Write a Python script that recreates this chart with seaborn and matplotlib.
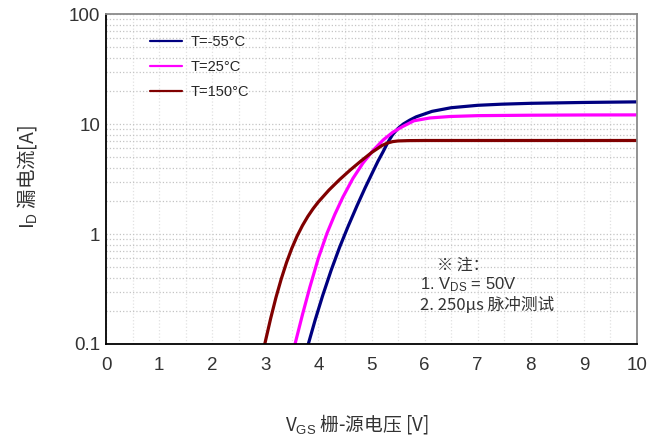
import matplotlib
matplotlib.use("Agg")
import matplotlib.pyplot as plt  # for charts
from matplotlib.ticker import LogLocator, MultipleLocator, NullFormatter
import numpy as np
import pandas as pd
import seaborn as sns

# Transfer characteristics ID-VGS
vgs_m55 = [3.81, 3.94, 4.08, 4.24, 4.40, 4.56, 4.73, 4.88, 5.03, 5.12, 5.22, 5.31,
           5.40, 5.50, 5.60, 5.72, 5.84, 6.14, 6.50, 7.00, 7.45, 8.00, 9.00, 10.00]
id_m55 = [0.1, 0.166, 0.275, 0.468, 0.759, 1.175, 1.82, 2.63, 3.72, 4.57, 5.62, 6.84,
          8.04, 9.12, 10.0, 10.84, 11.61, 13.03, 14.06, 14.79, 15.14, 15.42, 15.70, 15.89]

vgs_25 = [3.56, 3.70, 3.84, 4.00, 4.16, 4.31, 4.46, 4.65, 4.84, 5.03, 5.22, 5.40,
          5.59, 5.80, 6.10, 6.48, 7.00, 8.00, 9.00, 10.00]
id_25 = [0.1, 0.185, 0.33, 0.605, 1.01, 1.51, 2.16, 3.2, 4.42, 5.75, 7.16, 8.41,
         9.5, 10.7, 11.35, 11.7, 11.91, 12.02, 12.08, 12.1]

vgs_150 = [2.99, 3.10, 3.20, 3.30, 3.40, 3.50, 3.60, 3.70, 3.80, 3.90, 4.00, 4.20,
           4.40, 4.60, 4.80, 5.00, 5.20, 5.30, 5.40, 5.50, 5.70, 6.00, 7.00, 8.00, 9.00, 10.00]
id_150 = [0.1, 0.170, 0.264, 0.390, 0.551, 0.743, 0.959, 1.194, 1.442, 1.698, 1.959, 2.512,
          3.126, 3.819, 4.603, 5.495, 6.383, 6.714, 6.918, 7.015, 7.063, 7.079, 7.08, 7.08, 7.08, 7.08]

labels = ["T=-55°C", "T=25°C", "T=150°C"]
colors = ["#000080", "#ff00ff", "#800000"]

x_ticks = list(range(0, 11))
y_ticks = [0.1, 1, 10, 100]
y_tick_labels = ["0.1", "1", "10", "100"]

note_lines = ["※ 注：", r"1. V$_{\rm DS}$ = 50V", "2. 250μs 脉冲测试"]
x_label = r"V$_{\rm GS}$ 栅-源电压 [V]"
y_label = r"I$_{\rm D}$ 漏电流[A]"

# long format table for seaborn
df = pd.concat([
    pd.DataFrame({"Vgs": vgs_m55, "Id": id_m55, "T": labels[0]}),
    pd.DataFrame({"Vgs": vgs_25, "Id": id_25, "T": labels[1]}),
    pd.DataFrame({"Vgs": vgs_150, "Id": id_150, "T": labels[2]}),
], ignore_index=True)

sns.set_style("white")
plt.rcParams["font.family"] = ["Liberation Sans", "Noto Sans CJK SC", "DejaVu Sans"]
plt.rcParams["mathtext.fontset"] = "custom"
plt.rcParams["mathtext.rm"] = "Liberation Sans"
plt.rcParams["mathtext.it"] = "Liberation Sans:italic"
plt.rcParams["mathtext.bf"] = "Liberation Sans:bold"
CJK = ["Noto Sans CJK SC", "DejaVu Sans"]

fig = plt.figure(figsize=(6.7, 4.44), dpi=100)
ax = fig.add_axes([106 / 670, 1 - 344 / 444, 531 / 670, 330 / 444])

sns.lineplot(data=df, x="Vgs", y="Id", hue="T", hue_order=labels,
             palette=colors, estimator=None, sort=False, linewidth=2.3, ax=ax)

ax.set_yscale("log")
ax.set_xlim(0, 10)
ax.set_ylim(0.1, 100)
ax.set_xlabel("")
ax.set_ylabel("")

ax.set_xticks(x_ticks)
ax.set_xticklabels([str(t) for t in x_ticks])
ax.set_yticks(y_ticks)
ax.set_yticklabels(y_tick_labels)
ax.xaxis.set_minor_locator(MultipleLocator(0.5))
ax.yaxis.set_minor_locator(LogLocator(base=10, subs=range(2, 10)))
ax.yaxis.set_minor_formatter(NullFormatter())
ax.tick_params(which="major", direction="in", length=4, width=1.1,
               labelsize=13.5, labelcolor="#333333")
ax.tick_params(axis="x", which="major", pad=9)
ax.tick_params(axis="y", which="major", pad=4)
ax.tick_params(which="minor", length=0)

# dotted grid
ax.set_axisbelow(True)
ax.grid(which="both", axis="y", linestyle=":", color="#c4c4c4", linewidth=0.9)
ax.grid(which="both", axis="x", linestyle=":", color="#e2e2e2", linewidth=0.9)

for side in ["left", "bottom"]:
    ax.spines[side].set_color("black")
    ax.spines[side].set_linewidth(1.3)
for side in ["top", "right"]:
    ax.spines[side].set_color("#8a8a8a")
    ax.spines[side].set_linewidth(1.3)

handles, labs = ax.get_legend_handles_labels()
leg = ax.legend(handles, labs, loc="upper left", bbox_to_anchor=(0.083, 0.936),
                frameon=False, fontsize=10.5, handlelength=2.2, handletextpad=0.6,
                labelspacing=0.75, borderpad=0, borderaxespad=0)
for line in leg.get_lines():
    line.set_linewidth(1.6)

# note in the lower right
ax.text(0.623, 0.238, note_lines[0], transform=ax.transAxes, va="center",
        fontsize=11.5, color="#333333", family=CJK)
ax.text(0.591, 0.180, note_lines[1], transform=ax.transAxes, va="center",
        fontsize=12, color="#333333")
ax.text(0.591, 0.118, note_lines[2], transform=ax.transAxes, va="center",
        fontsize=12, color="#333333", family=CJK)

fig.text(357 / 670, 1 - 424 / 444, x_label, ha="center", va="center",
         fontsize=13.5, color="#333333", family=CJK)
fig.text(27 / 670, 1 - 177 / 444, y_label, ha="center", va="center",
         rotation=90, fontsize=14, color="#333333", family=CJK)

fig.savefig("out.png", dpi=100)
